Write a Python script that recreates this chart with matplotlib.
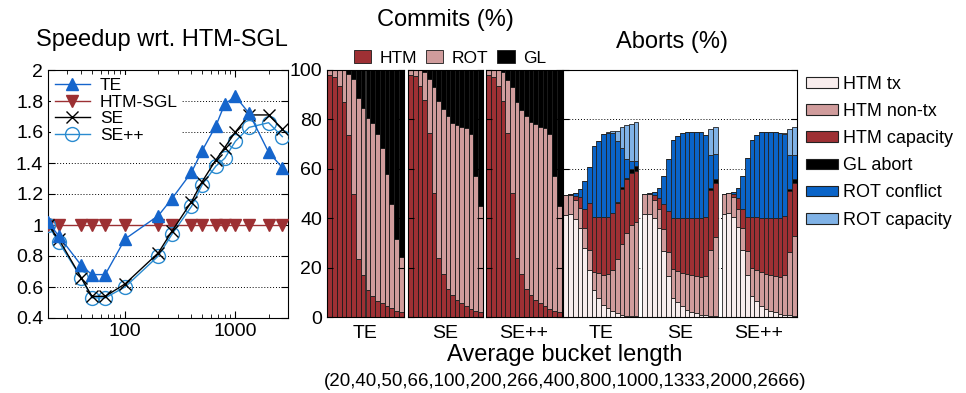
import numpy as np
import matplotlib
matplotlib.use("Agg")
import matplotlib.pyplot as plt
from matplotlib.patches import Patch
from matplotlib.ticker import FixedLocator, FuncFormatter, NullFormatter

plt.rcParams['font.family'] = ['Liberation Sans', 'DejaVu Sans']

# ---------------- data ----------------
bucket_len = [20, 25, 40, 50, 66, 100, 200, 266, 400, 500, 666, 800, 1000, 1333, 2000, 2666]
speed_te = [1.02, 0.93, 0.74, 0.68, 0.68, 0.91, 1.06, 1.17, 1.34, 1.48, 1.64, 1.78, 1.83, 1.72, 1.47, 1.37]
speed_sgl = [1.0] * 16
speed_se = [1.0, 0.91, 0.66, 0.54, 0.54, 0.62, 0.82, 0.96, 1.15, 1.28, 1.42, 1.50, 1.60, 1.71, 1.71, 1.62]
speed_sepp = [1.0, 0.89, 0.66, 0.53, 0.53, 0.60, 0.80, 0.94, 1.12, 1.26, 1.38, 1.43, 1.54, 1.63, 1.66, 1.57]

groups = ["TE", "SE", "SE++"]

# commits: cumulative levels (HTM top, HTM+ROT top); GL fills to 100
commit_htm = {
    "TE":   [98.0, 97.2, 93.6, 87.2, 73.8, 49.8, 23.5, 17.0, 10.9, 8.6, 6.4, 5.6, 4.6, 3.5, 2.4, 1.9],
    "SE":   [98.0, 97.4, 93.7, 87.8, 74.4, 50.4, 23.9, 17.6, 11.3, 9.0, 7.0, 5.6, 4.3, 3.2, 2.4, 2.0],
    "SE++": [98.0, 97.2, 93.6, 87.5, 74.4, 50.2, 23.8, 17.5, 11.3, 8.8, 6.8, 5.6, 4.3, 3.2, 2.4, 1.9],
}
commit_rot_top = {
    "TE":   [100, 100, 100, 100, 98.3, 96.2, 88.8, 84.8, 80.4, 78.7, 74.2, 68.3, 57.9, 45.9, 31.7, 24.3],
    "SE":   [100, 100, 100, 99, 96.5, 93.0, 87.4, 84.2, 81.3, 78.7, 77.7, 76.9, 76.6, 74.2, 57.2, 45.0],
    "SE++": [100, 100, 100, 99, 96.0, 93.0, 87.0, 84.0, 81.5, 79.0, 78.0, 77.0, 76.6, 74.2, 57.0, 45.0],
}
commit_gl_top = [100] * 16

# aborts: cumulative levels per category
abort_tx_top = {
    "TE":   [41.1, 41.6, 39.8, 35.9, 27.9, 18.9, 11.1, 7.7, 5.0, 3.6, 2.3, 1.6, 0.9, 0.6, 0.5, 0.4],
    "SE":   [41.6, 41.8, 40.0, 36.1, 26.7, 16.5, 7.7, 6.1, 4.3, 2.9, 2.0, 1.6, 1.0, 0.8, 0.6, 0.5],
    "SE++": [41.6, 42.2, 40.6, 36.3, 27.3, 17.2, 8.4, 6.3, 4.6, 3.4, 2.3, 1.9, 1.3, 0.9, 0.8, 0.5],
}
abort_nontx_top = {
    "TE":   [49.4, 49.4, 47.4, 44.0, 36.1, 27.3, 18.1, 17.8, 17.2, 17.6, 19.2, 23.3, 29.4, 34.1, 37.1, 38.4],
    "SE":   [49.8, 49.8, 47.4, 43.6, 35.5, 26.3, 19.6, 18.8, 17.8, 17.3, 16.9, 16.5, 16.3, 16.5, 27.3, 32.5],
    "SE++": [49.8, 50.1, 48.4, 43.9, 36.1, 26.7, 19.9, 19.2, 18.1, 17.6, 16.9, 16.5, 16.3, 17.2, 26.3, 32.8],
}
abort_cap_top = {
    "TE":   [49.4, 49.6, 49.0, 48.7, 43.6, 46.0, 40.6, 40.6, 40.3, 40.3, 42.0, 46.3, 52.0, 55.8, 58.1, 59.0],
    "SE":   [49.8, 49.8, 49.3, 48.3, 45.6, 42.9, 40.2, 40.2, 39.9, 39.9, 39.9, 39.9, 39.9, 40.6, 51.4, 54.4],
    "SE++": [49.8, 50.1, 49.7, 48.3, 43.6, 40.6, 40.6, 40.6, 40.2, 40.2, 39.9, 39.9, 40.2, 40.9, 51.0, 54.4],
}
abort_gl_top = {
    "TE":   [49.4, 49.6, 49.0, 48.7, 43.6, 46.0, 40.6, 40.6, 40.3, 40.3, 42.0, 46.6, 52.7, 56.4, 60.1, 61.2],
    "SE":   [49.8, 49.8, 49.3, 48.3, 45.6, 42.9, 40.2, 40.2, 39.9, 39.9, 39.9, 39.9, 39.9, 40.6, 52.4, 56.0],
    "SE++": [49.8, 50.1, 49.7, 48.3, 43.6, 40.6, 40.6, 40.6, 40.2, 40.2, 39.9, 39.9, 40.2, 40.9, 52.0, 55.8],
}
abort_conf_top = {
    "TE":   [49.4, 50.0, 50.1, 51.8, 55.1, 60.9, 69.1, 71.4, 74.0, 74.5, 74.5, 71.4, 68.3, 63.9, 63.1, 63.1],
    "SE":   [49.8, 50.1, 50.6, 52.4, 56.9, 63.9, 71.6, 73.3, 74.5, 75.0, 75.0, 75.0, 74.8, 73.8, 65.5, 66.0],
    "SE++": [49.8, 50.4, 50.6, 52.4, 57.2, 64.2, 71.8, 73.7, 74.8, 75.0, 75.0, 74.8, 74.5, 74.1, 65.5, 65.5],
}
abort_rotcap_top = {
    "TE":   [49.4, 50.0, 50.1, 51.8, 55.1, 60.9, 69.1, 71.4, 74.0, 74.8, 75.2, 75.4, 76.8, 77.7, 78.3, 79.1],
    "SE":   [49.8, 50.1, 50.6, 52.4, 56.9, 63.9, 71.6, 73.3, 74.5, 75.0, 75.0, 75.0, 74.8, 73.8, 76.1, 77.0],
    "SE++": [49.8, 50.4, 50.6, 52.4, 57.2, 64.2, 71.8, 73.7, 74.8, 75.0, 75.0, 74.8, 74.5, 74.5, 76.1, 77.0],
}

commit_labels = ["HTM", "ROT", "GL"]
abort_labels = ["HTM tx", "HTM non-tx", "HTM capacity", "GL abort", "ROT conflict", "ROT capacity"]

# ---------------- style ----------------
C_HTM = '#9e3034'
C_ROT = '#d09c9c'
C_GL = '#000000'
C_TX = '#f8eded'
C_CONF = '#0a64c8'
C_RCAP = '#80b2e6'
commit_colors = [C_HTM, C_ROT, C_GL]
abort_colors = [C_TX, C_ROT, C_HTM, C_GL, C_CONF, C_RCAP]

W, H = 966, 393
fig = plt.figure(figsize=(W / 100, H / 100), dpi=100)

def rect(l, r, t, b):
    return [l / W, 1 - b / H, (r - l) / W, (b - t) / H]

TICK_FS = 14
dotted = (0, (1, 2))

# ---------------- speedup ----------------
ax = fig.add_axes(rect(48, 288, 70, 318))
ax.set_xscale('log')
ax.set_xlim(20, 3000)
ax.set_ylim(0.4, 2.0)
ax.set_yticks(np.arange(0.4, 2.01, 0.2))
ax.yaxis.set_major_formatter(FuncFormatter(lambda v, p: '%g' % round(v, 1)))
ax.xaxis.set_major_locator(FixedLocator([100, 1000]))
ax.xaxis.set_major_formatter(FuncFormatter(lambda v, p: '%d' % v))
ax.xaxis.set_minor_formatter(NullFormatter())
ax.tick_params(which='both', direction='in', top=True, right=True, labelsize=TICK_FS)
ax.tick_params(which='major', length=5)
ax.tick_params(which='minor', length=3)
ax.yaxis.grid(True, linestyle=dotted, color='k', lw=0.7)
ax.set_axisbelow(True)
ax.plot(bucket_len, speed_sgl, color='#9c3033', marker='v', ms=8.5, lw=1.0, label='HTM-SGL', zorder=3)
ax.plot(bucket_len, speed_sepp, color='#2a8bd0', marker='o', ms=10, mfc='none', mew=1.0, lw=1.0, label='SE++', zorder=4)
ax.plot(bucket_len, speed_se, color='black', marker='x', ms=9, mew=1.0, lw=1.0, label='SE', zorder=5)
ax.plot(bucket_len, speed_te, color='#1565cc', marker='^', ms=8.5, lw=1.0, label='TE', zorder=6)
h, l = ax.get_legend_handles_labels()
order = [l.index(n) for n in ['TE', 'HTM-SGL', 'SE', 'SE++']]
leg = ax.legend([h[i] for i in order], [l[i] for i in order], loc='upper left',
                bbox_to_anchor=(0.0, 0.995), fontsize=12.5, frameon=True, fancybox=False,
                edgecolor='none', facecolor='white', framealpha=1.0, labelspacing=0.08,
                handlelength=2.0, handletextpad=0.6, borderpad=0.2, borderaxespad=0.2)
leg.set_zorder(10)
fig.text(162 / W, 1 - 40 / H, 'Speedup wrt. HTM-SGL', ha='center', va='center', fontsize=17)

# ---------------- commits ----------------
commit_x = [(327, 404), (408, 483), (486, 562)]
idx = np.arange(16)
for gi, g in enumerate(groups):
    l_, r_ = commit_x[gi]
    a = fig.add_axes(rect(l_, r_, 70, 317))
    levels = [commit_htm[g], commit_rot_top[g], commit_gl_top]
    prev = np.zeros(16)
    for lev, col in zip(levels, commit_colors):
        lev = np.array(lev, dtype=float)
        a.bar(idx, lev - prev, bottom=prev, width=1.0, color=col, edgecolor='#1a1a1a', lw=0.6)
        prev = lev
    a.set_xlim(-0.6, 15.6)
    a.set_ylim(0, 100)
    a.set_yticks(np.arange(0, 101, 20))
    a.set_xticks([7.5])
    a.set_xticklabels([g])
    a.tick_params(axis='x', length=0, labelsize=TICK_FS, pad=6)
    a.tick_params(axis='y', direction='in', left=True, right=True, length=4, labelsize=TICK_FS)
    if gi > 0:
        a.set_yticklabels([])

fig.text(445 / W, 1 - 20 / H, 'Commits (%)', ha='center', va='center', fontsize=17)
fig.legend([Patch(facecolor=c, edgecolor='#1a1a1a', lw=0.6) for c in commit_colors], commit_labels,
           loc='center', bbox_to_anchor=(450 / W, 1 - 58 / H), ncol=3, frameon=False, fontsize=12.5,
           handlelength=1.0, handleheight=0.8, handletextpad=0.5, columnspacing=0.5, borderpad=0.0)

# ---------------- aborts ----------------
ab = fig.add_axes(rect(563, 797, 70, 317))
step = 16.85
for gi, g in enumerate(groups):
    xs = gi * step + idx
    levels = [abort_tx_top[g], abort_nontx_top[g], abort_cap_top[g], abort_gl_top[g],
              abort_conf_top[g], abort_rotcap_top[g]]
    prev = np.zeros(16)
    for lev, col in zip(levels, abort_colors):
        lev = np.array(lev, dtype=float)
        ab.bar(xs, lev - prev, bottom=prev, width=1.0, color=col, edgecolor='#222222', lw=0.6, zorder=2)
        prev = lev
ab.set_xlim(-0.6, 2 * step + 15.6)
ab.set_ylim(0, 100)
ab.set_yticks(np.arange(0, 101, 20))
ab.set_yticklabels([])
ab.yaxis.grid(True, linestyle=dotted, color='k', lw=0.7, zorder=0)
ab.set_axisbelow(True)
ab.set_xticks([gi * step + 7.5 for gi in range(3)])
ab.set_xticklabels(groups)
ab.tick_params(axis='x', length=0, labelsize=TICK_FS, pad=6)
ab.tick_params(axis='y', direction='in', left=True, right=True, length=4)
fig.text(672 / W, 1 - 42 / H, 'Aborts (%)', ha='center', va='center', fontsize=17)
fig.legend([Patch(facecolor=c, edgecolor='#222222', lw=0.8) for c in abort_colors], abort_labels,
           loc='upper left', bbox_to_anchor=(806 / W, 1 - 76 / H), frameon=False, fontsize=13,
           handlelength=1.75, handleheight=0.55, handletextpad=0.3, labelspacing=0.56, borderpad=0.0,
           borderaxespad=0.0)

fig.text(565 / W, 1 - 355 / H, 'Average bucket length', ha='center', va='center', fontsize=17)
fig.text(565 / W, 1 - 382 / H, '(20,40,50,66,100,200,266,400,800,1000,1333,2000,2666)',
         ha='center', va='center', fontsize=13.5)

fig.savefig('out.png', dpi=100)
